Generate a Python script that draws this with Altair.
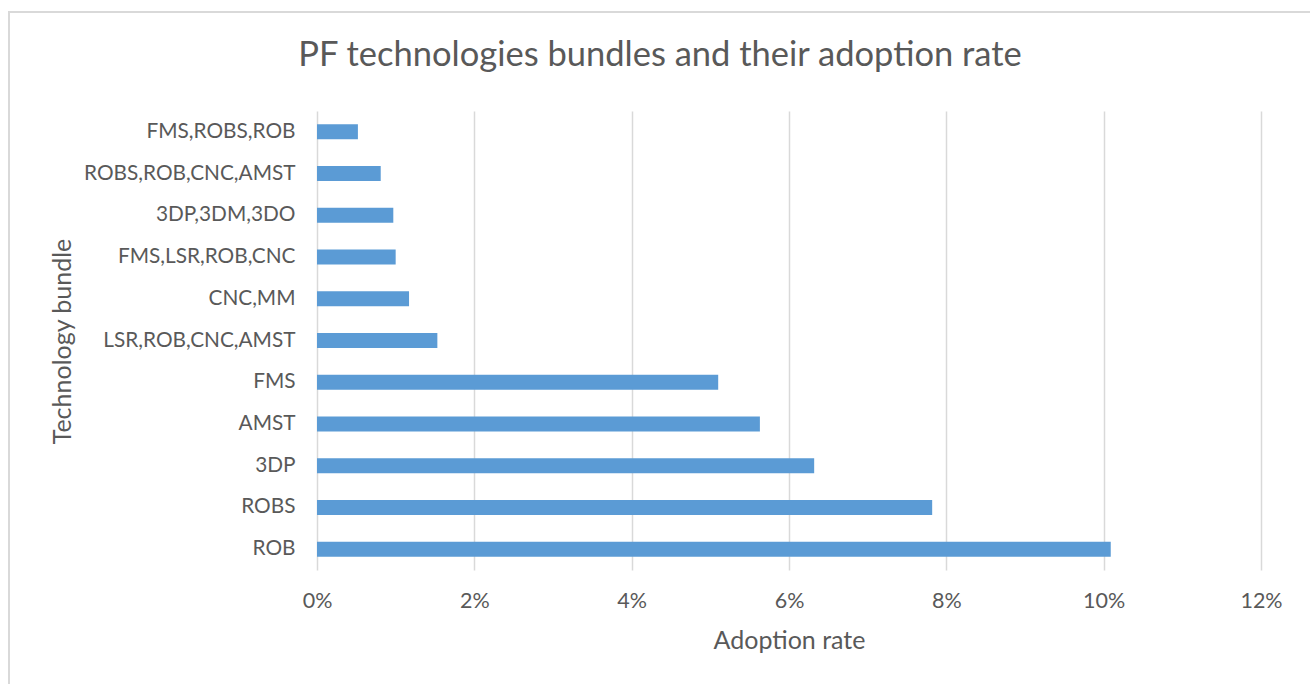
import altair as alt
import pandas as pd

bundles = [
    "FMS,ROBS,ROB",
    "ROBS,ROB,CNC,AMST",
    "3DP,3DM,3DO",
    "FMS,LSR,ROB,CNC",
    "CNC,MM",
    "LSR,ROB,CNC,AMST",
    "FMS",
    "AMST",
    "3DP",
    "ROBS",
    "ROB",
]
rates = [0.0052, 0.0081, 0.0097, 0.0100, 0.0117, 0.0153, 0.0510, 0.0563, 0.0632, 0.0782, 0.1009]
x_ticks = [0, 0.02, 0.04, 0.06, 0.08, 0.10, 0.12]

df = pd.DataFrame({"bundle": bundles, "rate": rates})

FONT = "Lato"
TXT = "#595959"

bars = alt.Chart(df).mark_bar(color="#5B9BD5").encode(
    x=alt.X(
        "rate:Q",
        scale=alt.Scale(domain=[0, 0.12], nice=False),
        axis=alt.Axis(
            values=x_ticks,
            format=".0%",
            title="Adoption rate",
            grid=True,
            gridColor="#d9d9d9",
            gridWidth=1.5,
            domain=False,
            ticks=False,
            labelFlush=False,
            labelPadding=20,
            labelFontSize=21.5,
            labelColor=TXT,
            labelFont=FONT,
            titleFont=FONT,
            titleFontSize=25,
            titleFontWeight="normal",
            titleColor=TXT,
            titleY=70,
            titleBaseline="middle",
        ),
    ),
    y=alt.Y(
        "bundle:N",
        sort=bundles,
        scale=alt.Scale(paddingInner=0.64, paddingOuter=0.32),
        axis=alt.Axis(
            title="Technology bundle",
            domain=False,
            ticks=False,
            grid=False,
            labelPadding=22,
            labelLimit=400,
            labelFontSize=20.8,
            labelColor=TXT,
            labelFont=FONT,
            titleFont=FONT,
            titleFontSize=25,
            titleFontWeight="normal",
            titleColor=TXT,
            titleX=-255,
            titleY=230,
            titleAngle=-90,
            titleAlign="center",
            titleBaseline="middle",
        ),
    ),
)

border = alt.Chart(df).mark_rect(
    fill="transparent", stroke="#d9d9d9", strokeWidth=1.5
).encode(
    x=alt.value(-308), x2=alt.value(1010), y=alt.value(-99), y2=alt.value(620)
)

chart = alt.layer(border, bars).properties(
    width=944,
    height=459,
    background="white",
    padding={"left": 317, "top": 111, "right": 49, "bottom": 114},
    autosize=alt.AutoSizeParams(type="none"),
    title=alt.TitleParams(
        "PF technologies bundles and their adoption rate",
        font=FONT,
        fontSize=34.5,
        fontWeight="normal",
        color=TXT,
        anchor="middle",
        frame="group",
        dx=-129,
        dy=100,
        offset=38,
    ),
).configure_view(strokeWidth=0, stroke="transparent")

chart.save("out.html", embed_options={"renderer": "svg", "actions": False})
